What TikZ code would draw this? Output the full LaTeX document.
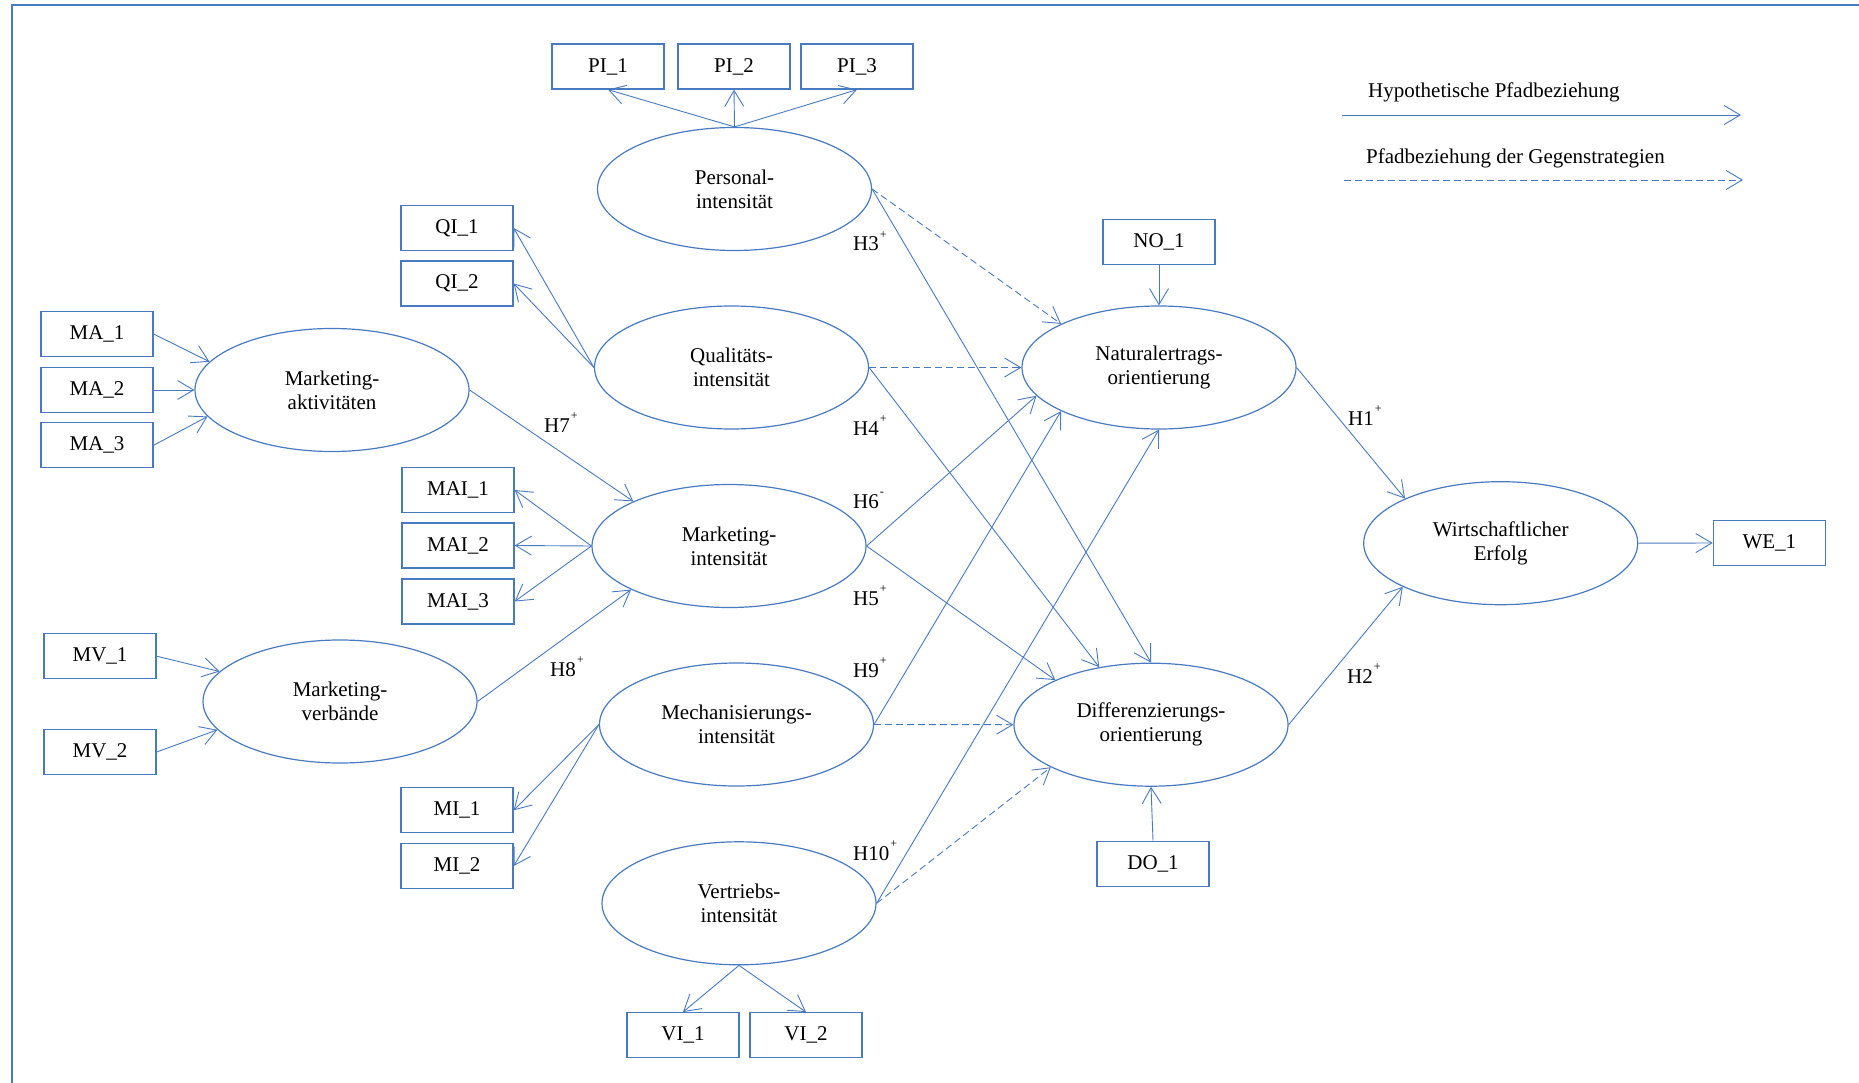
\documentclass[tikz,border=0pt]{standalone}
\usepackage{fontspec}
\setmainfont{Liberation Serif}
\usetikzlibrary{arrows.meta,shapes.geometric}
\definecolor{pathblue}{RGB}{72,122,194}
% small raised sign after a hypothesis number
\newcommand{\hsign}[1]{\kern1pt\raisebox{0.6em}{\fontsize{12}{12}\selectfont #1}}
\begin{document}
\begin{tikzpicture}[x=1pt,y=-1pt,
  font=\fontsize{21}{24}\selectfont,
  every node/.style={text=black},
  indicator/.style={draw=pathblue,line width=1.3pt,rectangle,minimum width=112pt,minimum height=45pt,inner sep=0pt},
  construct/.style={draw=pathblue,line width=1.2pt,ellipse,minimum width=274pt,minimum height=123pt,inner sep=2pt,align=center},
  path/.style={draw=pathblue,line width=0.9pt,-{Straight Barb[length=16pt,width=19pt,line width=0.9pt]}},
  counter/.style={path,dash pattern=on 7pt off 4pt},
  hyp/.style={anchor=base west,inner sep=0pt}
]
\useasboundingbox (0,0) rectangle (1859,1083);
% frame
\draw[pathblue,line width=1.4pt] (12,1083) -- (12,5) -- (1859,5);

% constructs
\node[construct] (pers) at (734.5,189) {Personal-\\intensität};
\node[construct] (qual) at (731.5,367.5) {Qualitäts-\\intensität};
\node[construct] (mact) at (332,390) {Marketing-\\aktivitäten};
\node[construct] (mint) at (729,546) {Marketing-\\intensität};
\node[construct] (mverb) at (340,701.5) {Marketing-\\verbände};
\node[construct] (mech) at (736.5,724.5) {Mechanisierungs-\\intensität};
\node[construct] (vert) at (739,903.3) {Vertriebs-\\intensität};
\node[construct] (natur) at (1159,367.5) {Naturalertrags-\\orientierung};
\node[construct] (diff) at (1151,724.7) {Differenzierungs-\\orientierung};
\node[construct] (wirt) at (1500.7,543.2) {Wirtschaftlicher\\Erfolg};

% indicators
\node[indicator] (pi1) at (608,66.5) {PI\_1};
\node[indicator] (pi2) at (734,66.5) {PI\_2};
\node[indicator] (pi3) at (857,66.5) {PI\_3};
\node[indicator] (qi1) at (457,228) {QI\_1};
\node[indicator] (qi2) at (457,283.5) {QI\_2};
\node[indicator] (ma1) at (97,334) {MA\_1};
\node[indicator] (ma2) at (97,390) {MA\_2};
\node[indicator] (ma3) at (97,445.3) {MA\_3};
\node[indicator] (mai1) at (458,490) {MAI\_1};
\node[indicator] (mai2) at (458,545.5) {MAI\_2};
\node[indicator] (mai3) at (458,601.5) {MAI\_3};
\node[indicator] (mv1) at (100,656.2) {MV\_1};
\node[indicator] (mv2) at (100,752) {MV\_2};
\node[indicator] (mi1) at (457,810.3) {MI\_1};
\node[indicator] (mi2) at (457,866) {MI\_2};
\node[indicator] (vi1) at (683,1035.2) {VI\_1};
\node[indicator] (vi2) at (806,1035.2) {VI\_2};
\node[indicator] (no1) at (1159,242.3) {NO\_1};
\node[indicator] (do1) at (1153,863.7) {DO\_1};
\node[indicator] (we1) at (1769.3,543) {WE\_1};

% measurement paths
\draw[path] (pers.north) -- (pi1.south);
\draw[path] (pers.north) -- (pi2.south);
\draw[path] (pers.north) -- (pi3.south);
\draw[path] (qual.west) -- (qi1.east);
\draw[path] (qual.west) -- (qi2.east);
\draw[path] (ma1.east) -- (mact.167.5);
\draw[path] (ma2.east) -- (mact.west);
\draw[path] (ma3.east) -- (mact.192.8);
\draw[path] (mint.west) -- (mai1.east);
\draw[path] (mint.west) -- (mai2.east);
\draw[path] (mint.west) -- (mai3.east);
\draw[path] (mv1.east) -- (mverb.166.7);
\draw[path] (mv2.east) -- (mverb.193.3);
\draw[path] (mech.west) -- (mi1.east);
\draw[path] (mech.west) -- (mi2.east);
\draw[path] (vert.south) -- (vi1.north);
\draw[path] (vert.south) -- (vi2.north);
\draw[path] (no1.south) -- (natur.north);
\draw[path] (do1.north) -- (diff.south);
\draw[path] (wirt.east) -- (we1.west);

% structural paths
\draw[path] (mact.east) -- (mint.155.9);
\draw[path] (mverb.east) -- (mint.204.7);
\draw[counter] (pers.east) -- (natur.156.2);
\draw[path] (pers.east) -- (diff.north);
\draw[counter] (qual.east) -- (natur.west);
\draw[path] (qual.east) -- (diff.132.2);
\draw[path] (mint.east) -- (natur.193.1);
\draw[path] (mint.east) -- (diff.155.9);
\draw[path] (mech.east) -- (natur.204.4);
\draw[counter] (mech.east) -- (diff.west);
\draw[path] (vert.east) -- (natur.south);
\draw[counter] (vert.east) -- (diff.203.8);
\draw[path] (natur.east) -- (wirt.155.6);
\draw[path] (diff.east) -- (wirt.204.4);

% hypothesis labels
\node[hyp] (h3) at (853,251) {H3\hsign{+}};
\node[hyp] (h4) at (853,435) {H4\hsign{+}};
\node[hyp] (h6) at (853,508) {H6\hsign{-}};
\node[hyp] (h5) at (853,605.5) {H5\hsign{+}};
\node[hyp] (h9) at (853,677) {H9\hsign{+}};
\node[hyp] (h10) at (853,860) {H10\hsign{+}};
\node[hyp] (h7) at (544,432) {H7\hsign{+}};
\node[hyp] (h8) at (550,676) {H8\hsign{+}};
\node[hyp] (h1) at (1348,425) {H1\hsign{+}};
\node[hyp] (h2) at (1347,683) {H2\hsign{+}};

% legend
\node[hyp] (leg1) at (1368,98) {Hypothetische Pfadbeziehung};
\node[hyp] (leg2) at (1366,164) {Pfadbeziehung der Gegenstrategien};
\coordinate (l1a) at (1342,115);
\coordinate (l1b) at (1741,115);
\coordinate (l2a) at (1344,180);
\coordinate (l2b) at (1743,180);
\draw[path] (l1a) -- (l1b);
\draw[counter] (l2a) -- (l2b);
\end{tikzpicture}
\end{document}
